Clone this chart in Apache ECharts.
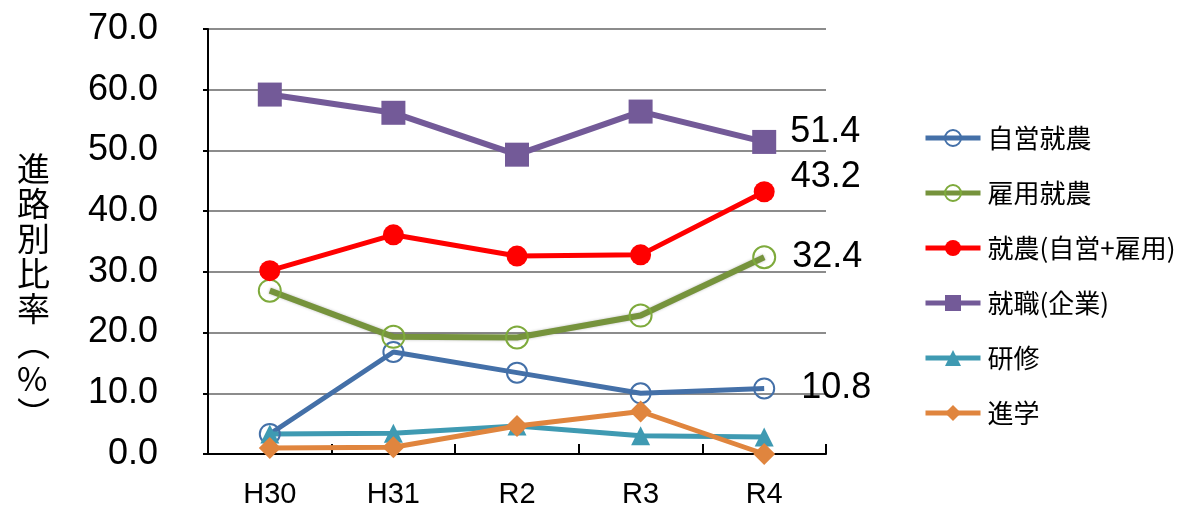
<!DOCTYPE html>
<html>
<head>
    <meta charset="UTF-8">
    <title></title>
    <script type="text/javascript" src="https://cdn.jsdelivr.net/npm/echarts@6/dist/echarts.min.js"></script>
</head>
<body style="margin:0;background:#fff;">
<div id="main" style="width: 1196px;height:510px;"></div>
<script type="text/javascript">
    // 年度
    var years = ['H30', 'H31', 'R2', 'R3', 'R4'];
    var yTicks = [0, 10, 20, 30, 40, 50, 60, 70];
    // 進路別比率（%）
    var jiei = [3.3, 16.8, 13.4, 10.0, 10.8];      // 自営就農
    var koyou = [26.9, 19.3, 19.2, 22.8, 32.4];    // 雇用就農
    var shunou = [30.2, 36.1, 32.6, 32.8, 43.2];   // 就農(自営+雇用)
    var shushoku = [59.2, 56.2, 49.3, 56.4, 51.4]; // 就職(企業)
    var kenshu = [3.3, 3.4, 4.6, 3.0, 2.8];        // 研修
    var shingaku = [1.0, 1.1, 4.6, 7.0, 0.0];      // 進学

    var numFont = "'Liberation Sans', 'Noto Sans CJK JP', sans-serif";
    var jpFont = "'Noto Sans CJK JP', sans-serif";

    var myChart = echarts.init(document.getElementById('main'));

    // 最後の点だけラベルを付ける
    function withLastLabel(arr, offset) {
        return arr.map(function (v, i) {
            if (i !== arr.length - 1) return v;
            return {
                value: v,
                label: {
                    show: true,
                    position: 'right',
                    distance: 0,
                    offset: offset,
                    formatter: function (p) { return p.value.toFixed(1); },
                    fontFamily: numFont,
                    fontSize: 36,
                    color: '#000'
                }
            };
        });
    }

    option = {
        animation: false,
        grid: {left: 208, right: 370, top: 29, bottom: 54},
        graphic: [{
            type: 'text',
            left: 17,
            top: 151,
            style: {
                text: '進\n路\n別\n比\n率\n︵\n%\n︶',
                font: '400 33px ' + jpFont,
                lineHeight: 35,
                fill: '#000',
                align: 'center'
            }
        }],
        legend: {
            orient: 'vertical',
            left: 918,
            top: 120,
            itemWidth: 55,
            itemHeight: 20,
            itemGap: 29,
            lineStyle: {width: 5},
            textStyle: {fontFamily: jpFont, fontSize: 26, color: '#000', padding: [0, 0, 0, 2]},
            data: ['自営就農', '雇用就農', '就農(自営+雇用)', '就職(企業)', '研修', '進学']
        },
        xAxis: {
            type: 'category',
            data: years,
            axisLine: {lineStyle: {color: '#000', width: 2}},
            axisTick: {show: true, inside: true, length: 10, lineStyle: {color: '#000', width: 2}},
            axisLabel: {fontFamily: numFont, fontSize: 29, color: '#000', margin: 27}
        },
        yAxis: {
            type: 'value',
            min: yTicks[0],
            max: yTicks[yTicks.length - 1],
            interval: 10,
            axisLine: {show: true, lineStyle: {color: '#000', width: 2}},
            axisTick: {show: true, length: 5, lineStyle: {color: '#000', width: 2}},
            axisLabel: {
                fontFamily: numFont, fontSize: 36, color: '#000', margin: 50,
                formatter: function (v) { return v.toFixed(1); }
            },
            splitLine: {lineStyle: {color: '#8c8c8c', width: 2}}
        },
        series: [
            {
                name: '自営就農', type: 'line',
                symbol: 'circle', symbolSize: 20,
                lineStyle: {color: '#4470a8', width: 5},
                itemStyle: {color: 'rgba(255,255,255,0)', borderColor: '#4470a8', borderWidth: 2},
                data: withLastLabel(jiei, [26, 0])
            },
            {
                name: '雇用就農', type: 'line',
                symbol: 'circle', symbolSize: 22,
                lineStyle: {color: '#76933c', width: 6, shadowColor: 'rgba(0,0,0,0.25)', shadowBlur: 3},
                itemStyle: {color: 'rgba(255,255,255,0)', borderColor: '#7eaa3c', borderWidth: 2},
                data: withLastLabel(koyou, [16, 0])
            },
            {
                name: '就農(自営+雇用)', type: 'line',
                symbol: 'circle', symbolSize: 21,
                lineStyle: {color: '#ff0000', width: 5},
                itemStyle: {color: '#ff0000'},
                data: withLastLabel(shunou, [16, -15])
            },
            {
                name: '就職(企業)', type: 'line',
                symbol: 'rect', symbolSize: 24,
                lineStyle: {color: '#735a98', width: 6},
                itemStyle: {color: '#735a98'},
                data: withLastLabel(shushoku, [14, -10])
            },
            {
                name: '研修', type: 'line',
                symbol: 'triangle', symbolSize: 19,
                lineStyle: {color: '#3f9ab2', width: 5},
                itemStyle: {color: '#3f9ab2'},
                data: kenshu
            },
            {
                name: '進学', type: 'line',
                symbol: 'diamond', symbolSize: 22,
                lineStyle: {color: '#e0853e', width: 5},
                itemStyle: {color: '#e0853e'},
                data: shingaku
            }
        ]
    };

    myChart.setOption(option);
</script>
</body>
</html>
